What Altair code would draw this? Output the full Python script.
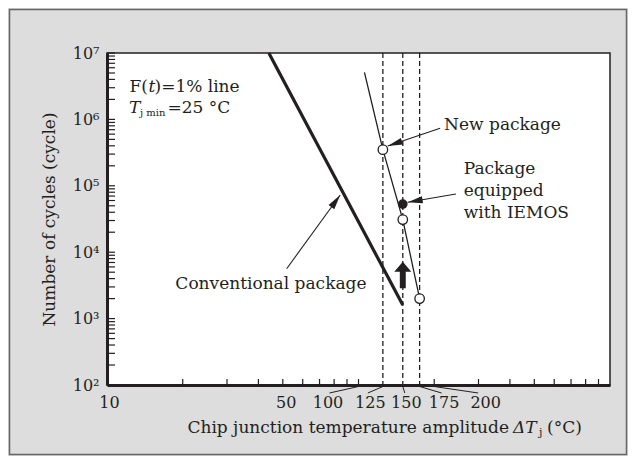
import math
import altair as alt
import pandas as pd

# ---------------- data ----------------
conv_dt = [44.0, 150.0]                 # conventional package (thick line)
conv_n = [1.0e7, 1.6e3]

new_dt = [105.6, 125.0, 150.0, 175.0]   # new package (thin line)
new_n = [5.1e6, 3.5e5, 3.1e4, 2.0e3]

open_dt = [125.0, 150.0, 175.0]         # open circles
open_n = [3.5e5, 3.1e4, 2.0e3]

iemos_dt = [150.0]                      # filled circle (IEMOS)
iemos_n = [5.3e4]

tj_dt = [125.0, 150.0, 175.0]           # dashed verticals

up_dt = [150.0]                         # bold up arrow (base of head)
up_n = [5.08e3]

x_label_values = [10, 50, 100, 125, 150, 175, 200]
x_tick_values = [20, 30, 40, 50, 60, 70, 80, 90, 100,
                 200, 300, 400, 500, 600, 700, 800, 900]
y_label_values = [1e2, 1e3, 1e4, 1e5, 1e6, 1e7]
y_tick_values = [m * 10.0 ** k for k in range(2, 7) for m in range(1, 10)] + [1e7]

ann_text = ["New package", "Package\nequipped\nwith IEMOS", "Conventional package"]
ann_text_dt = [219.0, 262.0, 18.7]
ann_text_n = [8.24e5, 1.82e5, 3.37e3]
arr_from_dt = [211.0, 244.0, 51.8]
arr_from_n = [7.35e5, 7.52e4, 5.64e3]
arr_to_dt = [130.7, 156.9, 84.6]
arr_to_n = [3.97e5, 5.64e4, 7.27e4]

# ---------------- style ----------------
W, H = 503, 332
INK = "#231f20"
FONT = "DejaVu Serif"
FS = 17      # annotation / title text
LFS = 16     # tick labels
BG = "#dcdddc"

label_shift = {10: 2, 50: 3, 100: -31, 125: -13, 150: 3, 175: 24, 200: 51}
leader_end = {100: -29, 125: -15, 150: 2, 175: 22, 200: 44}

xs = alt.Scale(type="log", domain=[10, 1000], nice=False)
ys = alt.Scale(type="log", domain=[1e2, 1e7], nice=False)

x_axis = alt.Axis(
    values=x_label_values, format="d", title=None, ticks=False, grid=False,
    domain=True, domainWidth=3, domainColor=INK,
    labelFont=FONT, labelFontSize=LFS, labelColor=INK, labelPadding=17,
    labelBaseline="middle", labelOverlap=False, labelFlush=False, labelBound=False,
    labelOffset={
        "condition": [{"test": f"datum.value == {v}", "value": o}
                      for v, o in label_shift.items()],
        "value": 0,
    },
)
y_axis = alt.Axis(
    values=y_label_values, title="Number of cycles (cycle)", ticks=False, grid=False,
    domain=True, domainWidth=3, domainColor=INK,
    labelFont=FONT, labelFontSize=LFS, labelColor=INK, labelPadding=8,
    labelOverlap=False, labelFlush=False,
    labelExpr="'10' + ['\u2070','\u00b9','\u00b2','\u00b3','\u2074','\u2075','\u2076','\u2077'][round(log(datum.value)/LN10)]",
    titleFont=FONT, titleFontSize=FS, titleColor=INK, titleFontWeight="normal",
    titleX=-58, titleY=H / 2, titleAngle=270, titleAlign="center", titleBaseline="middle",
)


def X(f):
    return alt.X(f, type="quantitative", scale=xs, axis=x_axis)


def Y(f):
    return alt.Y(f, type="quantitative", scale=ys, axis=y_axis)


def px(dt):
    return W * math.log10(dt / 10.0) / 2.0


def py(n):
    return H * (7.0 - math.log10(n)) / 5.0


layers = []

# outer frame
layers.append(
    alt.Chart(pd.DataFrame({"a": [0]})).mark_rect(fillOpacity=0, stroke="#666666", strokeWidth=1.5)
    .encode(x=alt.value(-97.5), x2=alt.value(519.5), y=alt.value(-43.5), y2=alt.value(401.5))
)

# inward ticks
layers.append(
    alt.Chart(pd.DataFrame({"dt": x_tick_values})).mark_rule(color=INK, strokeWidth=1.2)
    .encode(x=X("dt"), y=alt.value(H), y2=alt.value(H - 6))
)
layers.append(
    alt.Chart(pd.DataFrame({"n": y_tick_values})).mark_rule(color=INK, strokeWidth=1.2)
    .encode(y=Y("n"), x=alt.value(0), x2=alt.value(8))
)

# dashed verticals
layers.append(
    alt.Chart(pd.DataFrame({"dt": tj_dt})).mark_rule(color=INK, strokeWidth=1.3, strokeDash=[5, 3])
    .encode(x=X("dt"), y=alt.value(0), y2=alt.value(H))
)

# lines
layers.append(
    alt.Chart(pd.DataFrame({"dt": conv_dt, "n": conv_n})).mark_line(color=INK, strokeWidth=3.2)
    .encode(x=X("dt"), y=Y("n"))
)
layers.append(
    alt.Chart(pd.DataFrame({"dt": new_dt, "n": new_n})).mark_line(color=INK, strokeWidth=1.3)
    .encode(x=X("dt"), y=Y("n"))
)

# annotation arrows
ang = []
for fx, fn, tx, tn in zip(arr_from_dt, arr_from_n, arr_to_dt, arr_to_n):
    dx = px(tx) - px(fx)
    dy = py(tn) - py(fn)
    ang.append((math.degrees(math.atan2(dx, -dy)) + 360.0) % 360.0)
arr_df = pd.DataFrame({"fx": arr_from_dt, "fn": arr_from_n, "tx": arr_to_dt,
                       "tn": arr_to_n, "ang": ang})
layers.append(
    alt.Chart(arr_df).mark_rule(color=INK, strokeWidth=1.1)
    .encode(x=X("fx"), y=Y("fn"), x2=alt.X2("tx"), y2=alt.Y2("tn"))
)
layers.append(
    alt.Chart(arr_df).mark_point(shape="M0,0L0.47,2L-0.47,2Z", filled=True, fill=INK,
                                 size=225, opacity=1, strokeWidth=0)
    .encode(x=X("tx"), y=Y("tn"), angle=alt.Angle("ang:Q", scale=None))
)

# points
layers.append(
    alt.Chart(pd.DataFrame({"dt": open_dt, "n": open_n})).mark_point(
        shape="circle", filled=True, fill="white", stroke=INK, strokeWidth=1.3, size=90, opacity=1)
    .encode(x=X("dt"), y=Y("n"))
)
layers.append(
    alt.Chart(pd.DataFrame({"dt": iemos_dt, "n": iemos_n})).mark_point(
        shape="circle", filled=True, fill=INK, size=95, opacity=1)
    .encode(x=X("dt"), y=Y("n"))
)

# bold up arrow
layers.append(
    alt.Chart(pd.DataFrame({"dt": up_dt, "n": up_n})).mark_point(
        shape="M-0.35,1.95L0.35,1.95L0.35,0L1,0L0,-1.18L-1,0L-0.35,0Z",
        filled=True, fill=INK, size=289, opacity=1, strokeWidth=0)
    .encode(x=X("dt"), y=Y("n"))
)

# annotation texts
layers.append(
    alt.Chart(pd.DataFrame({"t": ann_text, "dt": ann_text_dt, "n": ann_text_n})).mark_text(
        align="left", baseline="middle", font=FONT, fontSize=FS, color=INK,
        lineBreak="\n", lineHeight=22)
    .encode(x=X("dt"), y=Y("n"), text="t:N")
)

# x-axis label leader lines
for v, d in leader_end.items():
    layers.append(
        alt.Chart(pd.DataFrame({"a": [0]})).mark_rule(color=INK, strokeWidth=1.0)
        .encode(x=alt.X(datum=v, type="quantitative", scale=xs, axis=x_axis),
                x2=alt.value(px(v) + d), y=alt.value(H + 1.5), y2=alt.value(H + 8))
    )


def txt(t, x, y, size=FS, align="left", style="normal"):
    return alt.Chart(pd.DataFrame({"t": [t]})).mark_text(
        align=align, baseline="middle", font=FONT, fontSize=size, color=INK, fontStyle=style
    ).encode(x=alt.value(x), y=alt.value(y), text="t:N")


# legend-like notes
layers += [
    txt("F(", 41, 34, align="right"),
    txt("t", 41.5, 34, style="italic"),
    txt(")=1% line", 47.5, 34),
    txt("T", 22, 55, style="italic"),
    txt("j min", 33, 60, size=10),
    txt("=25 \u00b0C", 60.5, 55),
]

# x-axis title
layers += [
    txt("Chip junction temperature amplitude", 402, 375, align="right"),
    txt("\u0394T", 406, 375, style="italic"),
    txt("j", 432, 380, size=11),
    txt("(\u00b0C)", 440, 375),
]

chart = alt.layer(*layers).properties(
    width=W, height=H,
    padding={"left": 99, "top": 45, "right": 18, "bottom": 71},
    autosize=alt.AutoSizeParams(type="none"),
    background=BG,
).configure_view(fill="white", stroke=INK, strokeWidth=1.5)

chart.save("out.html", embed_options={"renderer": "svg", "actions": False})
